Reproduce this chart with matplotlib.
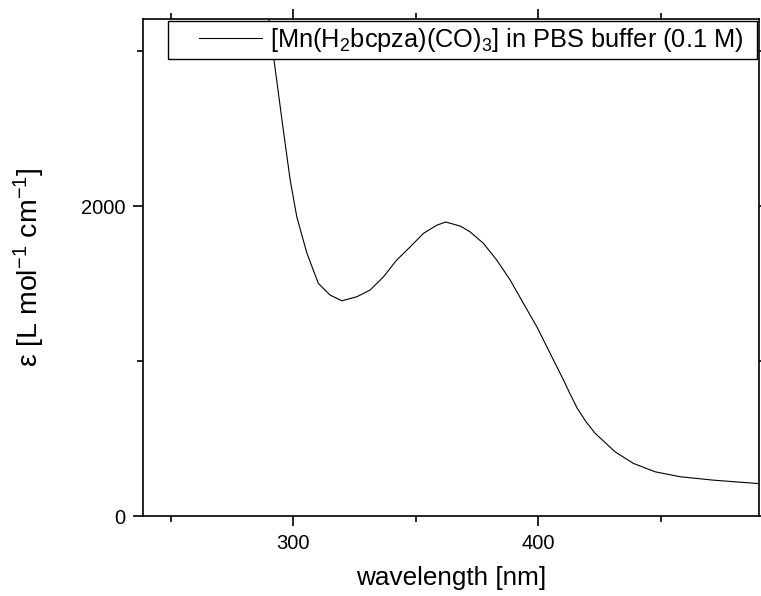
import matplotlib.pyplot as plt
from matplotlib.ticker import MultipleLocator
from matplotlib.legend_handler import HandlerLine2D

plt.rcParams['font.family'] = ['Liberation Sans', 'DejaVu Sans']
plt.rcParams['mathtext.fontset'] = 'custom'
plt.rcParams['mathtext.rm'] = 'Liberation Sans'
plt.rcParams['mathtext.it'] = 'Liberation Sans:italic'
plt.rcParams['mathtext.bf'] = 'Liberation Sans:bold'

# UV-vis spectrum (nm, L mol-1 cm-1)
wavelength = [289.0, 292.2, 296.0, 298.8, 301.5, 305.6, 310.3, 315.1, 319.9,
              326.0, 331.4, 336.9, 342.3, 347.8, 353.2, 358.7, 362.3, 368.2,
              372.2, 377.7, 383.1, 388.6, 394.0, 399.5, 404.9, 410.3, 413.0,
              416.0, 419.5, 423.3, 431.4, 438.9, 447.8, 458.0, 471.6, 490.0]
epsilon = [3350, 2942, 2490, 2168, 1931, 1697, 1501, 1426, 1389,
           1415, 1458, 1544, 1652, 1737, 1824, 1877, 1897, 1871,
           1834, 1759, 1652, 1523, 1372, 1221, 1050, 880, 790,
           695, 610, 534, 415, 340, 286, 254, 232, 210]
peak_label = "1897"
series_label = r'[Mn(H$_\mathregular{2}$bcpza)(CO)$_\mathregular{3}$] in PBS buffer (0.1 M)  '

fig = plt.figure(figsize=(7.61, 5.96), dpi=100)
ax = fig.add_axes([0.1875, 0.134, 0.81, 0.834])

ax.plot(wavelength, epsilon, color='black', lw=0.8, label=series_label)

# peak annotation
i_max = epsilon.index(max(epsilon))
ax.annotate(peak_label, xy=(wavelength[i_max], epsilon[i_max]), xytext=(0, 6),
            textcoords='offset points', ha='center', va='bottom',
            fontsize=17.5, fontweight='bold')

ax.set_xlim(238.6, 490.2)
ax.set_ylim(0, 3206)
ax.xaxis.set_major_locator(MultipleLocator(100))
ax.xaxis.set_minor_locator(MultipleLocator(50))
ax.yaxis.set_major_locator(MultipleLocator(2000))
ax.yaxis.set_minor_locator(MultipleLocator(1000))

ax.tick_params(which='both', direction='out', top=True, right=True, width=1.2)
ax.tick_params(which='major', length=7.2, labelsize=14.5, pad=5.5)
ax.tick_params(which='minor', length=4)
for s in ax.spines.values():
    s.set_linewidth(1.2)

ax.set_xlabel('wavelength [nm]', fontsize=18.8, labelpad=9.5)
ax.set_ylabel(r'ε [L mol$^\mathregular{-1}$ cm$^\mathregular{-1}$]', fontsize=20.5, labelpad=24)

leg = ax.legend(loc='upper right', fontsize=18.3, frameon=True, fancybox=False,
                edgecolor='black', framealpha=1, borderaxespad=0.08,
                handlelength=3.5, handletextpad=0.32, borderpad=0.2,
                handler_map={plt.Line2D: HandlerLine2D(xpad=1.02)})
leg.get_frame().set_linewidth(1.0)

fig.savefig('out.png', dpi=100)
